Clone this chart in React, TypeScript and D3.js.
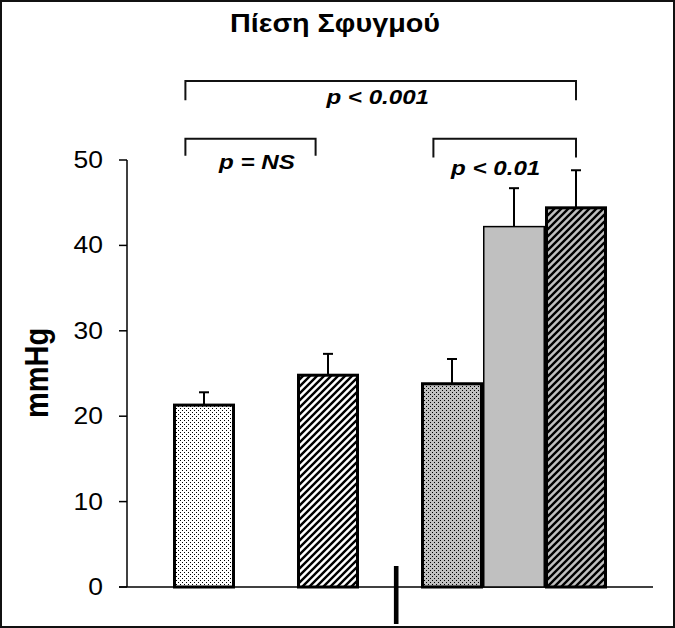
import React from "react";
import * as d3 from "d3";

// ---- data ----
const title = "Πίεση Σφυγμού";
const yLabel = "mmHg";
const slotDomain = ["s0", "c1", "s1", "c2", "s2", "c3", "c4", "c5", "s3"];
const categories = ["c1", "c2", "c3", "c4", "c5"];
const values = [21.3, 24.8, 23.8, 42.2, 44.4];
const errors = [1.5, 2.5, 2.9, 4.5, 4.4];
const fills = ["url(#dotsW)", "url(#hatchW)", "url(#dotsG)", "#c0c0c0", "url(#hatchG)"];
const strokeW = [3, 3, 3, 1.5, 3];
const yTicks = [0, 10, 20, 30, 40, 50];
// brackets: from/to as category + fraction of band, level (value units), leg end
const brackets = [
  { from: ["c1", 0.2], to: ["c5", 0.5], level: 59.25, legEnd: 57.0, label: "p < 0.001", textY: 56.5 },
  { from: ["c1", 0.2], to: ["c2", 0.3], level: 52.5, legEnd: 50.5, label: "p = NS", textY: 49.0 },
  { from: ["c3", 0.2], to: ["c5", 0.5], level: 52.5, legEnd: 50.3, label: "p < 0.01", textY: 48.3 },
];

const W = 675;
const H = 628;
const SX = 1.15; // horizontal text stretch seen in the reference

export default function App() {
  const x = d3.scaleBand<string>().domain(slotDomain).range([111, 669]).padding(0);
  const y = d3.scaleLinear().domain([0, 50]).range([587, 160]);
  const bw = x.bandwidth();
  const axisX = 127;
  const font = "'Liberation Sans', Arial, sans-serif";
  const bx = (c: [string, number] | any) => (x(c[0]) as number) + c[1] * bw;

  return (
    <svg width={W} height={H} style={{ position: "absolute", left: 0, top: 0, background: "#fff" }} fontFamily={font}>
      <defs>
        <pattern id="dotsW" width={4} height={4} patternUnits="userSpaceOnUse">
          <rect width={4} height={4} fill="#fff" />
          <rect x={0} y={0} width={1} height={1} fill="#000" />
          <rect x={2} y={2} width={1} height={1} fill="#000" />
        </pattern>
        <pattern id="dotsG" width={4} height={4} patternUnits="userSpaceOnUse">
          <rect width={4} height={4} fill="#c0c0c0" />
          <rect x={0} y={0} width={1} height={1} fill="#000" />
          <rect x={2} y={2} width={1} height={1} fill="#000" />
        </pattern>
        <pattern id="hatchW" width={7} height={7} patternUnits="userSpaceOnUse">
          <rect width={7} height={7} fill="#fff" />
          <path d="M0,7 L7,0 M-1,1 L1,-1 M6,8 L8,6" stroke="#000" strokeWidth={2.4} />
        </pattern>
        <pattern id="hatchG" width={7} height={7} patternUnits="userSpaceOnUse">
          <rect width={7} height={7} fill="#c0c0c0" />
          <path d="M0,7 L7,0 M-1,1 L1,-1 M6,8 L8,6" stroke="#000" strokeWidth={2.4} />
        </pattern>
      </defs>

      <rect x={1} y={1} width={W - 2} height={H - 2} fill="#fff" stroke="#111" strokeWidth={2} />

      {/* title */}
      <text transform={`translate(335,32) scale(${SX},1)`} textAnchor="middle" fontSize={25} fontWeight="bold">
        {title}
      </text>

      {/* y label */}
      <text transform={`translate(48,373) scale(${SX},1) rotate(-90)`} textAnchor="middle" fontSize={29} fontWeight="bold">
        {yLabel}
      </text>

      {/* y axis */}
      <line x1={axisX} x2={axisX} y1={y(50)} y2={y(0)} stroke="#000" strokeWidth={1.5} />
      {yTicks.map((t) => (
        <g key={t}>
          <line x1={axisX - 8} x2={axisX} y1={y(t)} y2={y(t)} stroke="#000" strokeWidth={1.5} />
          <text transform={`translate(103,${y(t) + 8}) scale(${SX},1)`} textAnchor="end" fontSize={23}>
            {t}
          </text>
        </g>
      ))}
      {/* baseline */}
      <line x1={axisX - 8} x2={653} y1={y(0)} y2={y(0)} stroke="#000" strokeWidth={1.5} />

      {/* bars */}
      {categories.map((c, i) => {
        const x0 = x(c) as number;
        const cx = x0 + bw / 2;
        const top = y(values[i]);
        const et = y(values[i] + errors[i]);
        return (
          <g key={c}>
            <line x1={cx} x2={cx} y1={top} y2={et} stroke="#000" strokeWidth={2} />
            <line x1={cx - 5} x2={cx + 5} y1={et} y2={et} stroke="#000" strokeWidth={2} />
            <rect
              x={x0 + strokeW[i] / 2}
              y={top}
              width={bw - strokeW[i]}
              height={y(0) - top}
              fill={fills[i]}
              stroke="#000"
              strokeWidth={strokeW[i]}
            />
          </g>
        );
      })}

      {/* separator mark */}
      <rect x={(x("s2") as number) + 0.6 * bw - 2.3} y={566} width={4.6} height={58} fill="#000" />

      {/* brackets */}
      {brackets.map((b, i) => {
        const x1 = bx(b.from);
        const x2 = bx(b.to);
        const yl = y(b.level);
        const ye = y(b.legEnd);
        return (
          <g key={i}>
            <path d={`M${x1},${ye} L${x1},${yl} L${x2},${yl} L${x2},${ye}`} fill="none" stroke="#111" strokeWidth={2} />
            <text
              transform={`translate(${i === 1 ? 257 : (x1 + x2) / 2 + (i === 2 ? -9 : -3)},${y(b.textY)}) scale(${SX},1)`}
              textAnchor="middle"
              fontSize={21}
              fontWeight="bold"
              fontStyle="italic"
            >
              {b.label}
            </text>
          </g>
        );
      })}
    </svg>
  );
}
